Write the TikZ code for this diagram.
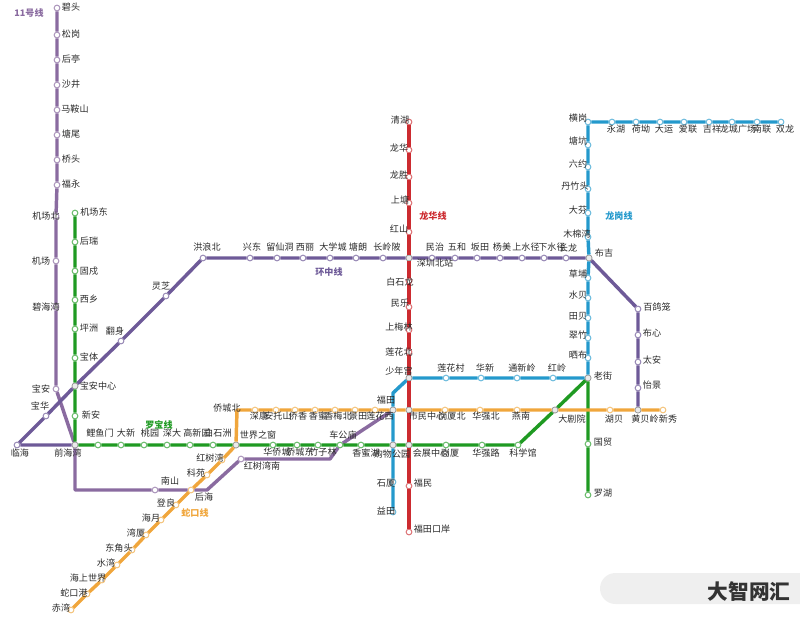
\documentclass[tikz,border=0pt]{standalone}
\usepackage{fontspec}
\setmainfont{Noto Sans CJK SC}
\definecolor{elevenc}{HTML}{8A6BA0}
\definecolor{ringc}{HTML}{6E5A98}
\definecolor{greenc}{HTML}{1F9A22}
\definecolor{redc}{HTML}{CC2B30}
\definecolor{bluec}{HTML}{2499CC}
\definecolor{orangec}{HTML}{F0A63C}
\definecolor{textc}{HTML}{2A2A2A}
\definecolor{barc}{HTML}{EFEFEF}
\tikzset{
    stn/.style={circle, draw=#1, fill=white, line width=0.7pt, minimum size=4.3pt, inner sep=0pt},
    hub/.style={circle, draw=black!40, fill=black!8, line width=0.6pt, minimum size=4.6pt, inner sep=0pt},
    tx/.style={inner sep=0pt, text=textc, font=\fontsize{6.8pt}{7pt}\selectfont},
    linename/.style={inner sep=0pt, text=#1, font=\fontsize{6.8pt}{7pt}\selectfont\bfseries},
    mline/.style={draw=#1, line width=2.6pt, line join=round}
}
\begin{document}
\begin{tikzpicture}[x=0.75pt, y=-0.75pt]
    \useasboundingbox (0, 0) rectangle (800, 621);
    \fill[barc] (800, 573) [rounded corners=11.6pt] -- (600, 573) -- (600, 604) [sharp corners] -- (800, 604) -- cycle;

    \node[hub] (qhw) at (75, 445) {};
    \node[hub] (bazx) at (75, 386) {};
    \node[hub] (sjzc) at (236, 445) {};
    \node[stn=orangec!70] (hh) at (191, 490) {};
    \node[stn=greenc!70] (cgm) at (340, 445) {};
    \node[hub] (szbz) at (409, 258) {};
    \node[hub] (bj) at (589, 258) {};
    \node[hub] (lj) at (588, 378) {};
    \node[hub] (dju) at (555, 410) {};
    \node[hub] (hbl) at (638, 410) {};
    \node[hub] (ft) at (393, 410) {};
    \node[hub] (smzx) at (409, 410) {};
    \node[hub] (gwgy) at (393, 445) {};
    \node[hub] (hzzx) at (409, 445) {};
    \node[hub] (snh) at (409, 378) {};

    \node[stn=elevenc!75] (bt) at (57, 8) {};
    \node[stn=elevenc!75] (sg) at (57, 35) {};
    \node[stn=elevenc!75] (ht) at (57, 60) {};
    \node[stn=elevenc!75] (sj) at (57, 85) {};
    \node[stn=elevenc!75] (mas) at (57, 110) {};
    \node[stn=elevenc!75] (tw) at (57, 135) {};
    \node[stn=elevenc!75] (qt) at (57, 160) {};
    \node[stn=elevenc!75] (fy) at (57, 185) {};
    \node[stn=elevenc!75] (jcb) at (56, 216) {};
    \node[stn=elevenc!75] (jc) at (56, 261) {};
    \node[stn=elevenc!75] (bhw) at (56, 307) {};
    \node[stn=elevenc!75] (ba) at (56, 389) {};
    \node[stn=elevenc!75] (ns) at (155, 490) {};
    \node[stn=elevenc!75] (hshn) at (241, 459) {};

    \node[stn=ringc!75] (lh) at (17, 445) {};
    \node[stn=ringc!75] (bh) at (46, 416) {};
    \node[stn=ringc!75] (fs) at (121, 341) {};
    \node[stn=ringc!75] (lz) at (166, 296) {};
    \node[stn=ringc!75] (hlb) at (203, 258) {};
    \node[stn=ringc!75] (xd) at (250, 258) {};
    \node[stn=ringc!75] (lxd) at (277, 258) {};
    \node[stn=ringc!75] (xl) at (303, 258) {};
    \node[stn=ringc!75] (dxc) at (330, 258) {};
    \node[stn=ringc!75] (tl) at (356, 258) {};
    \node[stn=ringc!75] (clp) at (383, 258) {};
    \node[stn=ringc!75] (mz) at (432, 258) {};
    \node[stn=ringc!75] (wh) at (455, 258) {};
    \node[stn=ringc!75] (bt2) at (477, 258) {};
    \node[stn=ringc!75] (ym) at (500, 258) {};
    \node[stn=ringc!75] (ssj) at (522, 258) {};
    \node[stn=ringc!75] (xsj) at (544, 258) {};
    \node[stn=ringc!75] (cl) at (566, 258) {};
    \node[stn=ringc!75] (bgl) at (638, 309) {};
    \node[stn=ringc!75] (bx) at (638, 335) {};
    \node[stn=ringc!75] (ta) at (638, 362) {};
    \node[stn=ringc!75] (yj) at (638, 388) {};

    \node[stn=greenc!70] (jcd) at (75, 213) {};
    \node[stn=greenc!70] (hr) at (75, 242) {};
    \node[stn=greenc!70] (gs) at (75, 271) {};
    \node[stn=greenc!70] (xx) at (75, 300) {};
    \node[stn=greenc!70] (pz) at (75, 329) {};
    \node[stn=greenc!70] (bti) at (75, 358) {};
    \node[stn=greenc!70] (xa) at (75, 416) {};
    \node[stn=greenc!70] (lym) at (98, 445) {};
    \node[stn=greenc!70] (dx) at (121, 445) {};
    \node[stn=greenc!70] (ty) at (144, 445) {};
    \node[stn=greenc!70] (sd) at (167, 445) {};
    \node[stn=greenc!70] (gxy) at (190, 445) {};
    \node[stn=greenc!70] (bsz) at (213, 445) {};
    \node[stn=greenc!70] (hqc) at (273, 445) {};
    \node[stn=greenc!70] (qcd) at (297, 445) {};
    \node[stn=greenc!70] (zzl) at (318, 445) {};
    \node[stn=greenc!70] (xmh) at (361, 445) {};
    \node[stn=greenc!70] (gx) at (446, 445) {};
    \node[stn=greenc!70] (hql) at (482, 445) {};
    \node[stn=greenc!70] (kxg) at (518, 445) {};
    \node[stn=greenc!70] (gm) at (588, 444) {};
    \node[stn=greenc!70] (lhu) at (588, 495) {};

    \node[stn=redc!70] (qh) at (409, 122) {};
    \node[stn=redc!70] (lhua) at (409, 150) {};
    \node[stn=redc!70] (ls) at (409, 177) {};
    \node[stn=redc!70] (st) at (409, 203) {};
    \node[stn=redc!70] (hs) at (409, 232) {};
    \node[stn=redc!70] (bsl) at (409, 281) {};
    \node[stn=redc!70] (ml) at (409, 307) {};
    \node[stn=redc!70] (sml) at (409, 330) {};
    \node[stn=redc!70] (lhb) at (409, 352) {};
    \node[stn=redc!70] (fm) at (409, 486) {};
    \node[stn=redc!70] (fta) at (409, 532) {};

    \node[stn=bluec!70] (hg) at (588, 122) {};
    \node[stn=bluec!70] (yh) at (612, 122) {};
    \node[stn=bluec!70] (ha) at (636, 122) {};
    \node[stn=bluec!70] (dy) at (660, 122) {};
    \node[stn=bluec!70] (al) at (684, 122) {};
    \node[stn=bluec!70] (jx) at (709, 122) {};
    \node[stn=bluec!70] (lcgc) at (732, 122) {};
    \node[stn=bluec!70] (nl) at (757, 122) {};
    \node[stn=bluec!70] (sl) at (781, 122) {};
    \node[stn=bluec!70] (tk) at (588, 145) {};
    \node[stn=bluec!70] (ly) at (588, 167) {};
    \node[stn=bluec!70] (dzt) at (588, 189) {};
    \node[stn=bluec!70] (df) at (588, 213) {};
    \node[stn=bluec!70] (mmw) at (588, 237) {};
    \node[stn=bluec!70] (cp) at (588, 278) {};
    \node[stn=bluec!70] (sb) at (588, 298) {};
    \node[stn=bluec!70] (tb) at (588, 318) {};
    \node[stn=bluec!70] (cz) at (588, 338) {};
    \node[stn=bluec!70] (shb) at (588, 358) {};
    \node[stn=bluec!70] (hlg) at (553, 378) {};
    \node[stn=bluec!70] (txl) at (517, 378) {};
    \node[stn=bluec!70] (hx) at (481, 378) {};
    \node[stn=bluec!70] (lhc) at (446, 378) {};
    \node[stn=bluec!70] (sx) at (393, 482) {};
    \node[stn=bluec!70] (ytian) at (393, 512) {};

    \node[stn=orangec!70] (cw) at (71, 610) {};
    \node[stn=orangec!70] (skg) at (87, 594) {};
    \node[stn=orangec!70] (hssj) at (102, 580) {};
    \node[stn=orangec!70] (swan) at (117, 565) {};
    \node[stn=orangec!70] (djt) at (132, 550) {};
    \node[stn=orangec!70] (wx) at (146, 535) {};
    \node[stn=orangec!70] (hy) at (161, 520) {};
    \node[stn=orangec!70] (dl) at (176, 505) {};
    \node[stn=orangec!70] (ky) at (207, 475) {};
    \node[stn=orangec!70] (hsw) at (222, 460) {};
    \node[stn=orangec!70] (sk) at (255, 410) {};
    \node[stn=orangec!70] (ats) at (276, 410) {};
    \node[stn=orangec!70] (qx) at (295, 410) {};
    \node[stn=orangec!70] (xm) at (315, 410) {};
    \node[stn=orangec!70] (xmb) at (335, 410) {};
    \node[stn=orangec!70] (jt) at (355, 410) {};
    \node[stn=orangec!70] (lhx) at (375, 410) {};
    \node[stn=orangec!70] (gxb) at (445, 410) {};
    \node[stn=orangec!70] (hqb) at (480, 410) {};
    \node[stn=orangec!70] (yn) at (517, 410) {};
    \node[stn=orangec!70] (hbei) at (610, 410) {};
    \node[stn=orangec!70] (xxiu) at (663, 410) {};

    \coordinate (qhwd) at (75, 490);
    \coordinate (hhe) at (207, 490);
    \coordinate (hsnr) at (330, 459);
    \coordinate (qcb) at (237, 410);
    \coordinate (ftn) at (393, 393);

    \draw[mline=elevenc] (bt) -- (sg) -- (ht) -- (sj) -- (mas) -- (tw) -- (qt) -- (fy) -- (jcb) -- (jc) -- (bhw) -- (ba) -- (qhw) -- (qhwd) -- (ns) -- (hh) -- (hhe) -- (hshn) -- (hsnr) -- (cgm) -- (ft);
    \draw[mline=ringc] (qhw) -- (lh) -- (bh) -- (bazx) -- (fs) -- (lz) -- (hlb) -- (xd) -- (lxd) -- (xl) -- (dxc) -- (tl) -- (clp) -- (szbz) -- (mz) -- (wh) -- (bt2) -- (ym) -- (ssj) -- (xsj) -- (cl) -- (bj) -- (bgl) -- (bx) -- (ta) -- (yj) -- (hbl);
    \draw[mline=greenc] (jcd) -- (hr) -- (gs) -- (xx) -- (pz) -- (bti) -- (bazx) -- (xa) -- (qhw) -- (lym) -- (dx) -- (ty) -- (sd) -- (gxy) -- (bsz) -- (sjzc) -- (hqc) -- (qcd) -- (zzl) -- (cgm) -- (xmh) -- (gwgy) -- (hzzx) -- (gx) -- (hql) -- (kxg) -- (dju) -- (lj) -- (gm) -- (lhu);
    \draw[mline=orangec] (cw) -- (skg) -- (hssj) -- (swan) -- (djt) -- (wx) -- (hy) -- (dl) -- (hh) -- (ky) -- (hsw) -- (sjzc) -- (qcb) -- (sk) -- (ats) -- (qx) -- (xm) -- (xmb) -- (jt) -- (lhx) -- (ft) -- (smzx) -- (gxb) -- (hqb) -- (yn) -- (dju) -- (hbei) -- (hbl) -- (xxiu);
    \draw[mline=bluec] (sl) -- (nl) -- (lcgc) -- (jx) -- (al) -- (dy) -- (ha) -- (yh) -- (hg) -- (tk) -- (ly) -- (dzt) -- (df) -- (mmw) -- (bj) -- (cp) -- (sb) -- (tb) -- (cz) -- (shb) -- (lj) -- (hlg) -- (txl) -- (hx) -- (lhc) -- (snh) -- (ftn) -- (ft) -- (gwgy) -- (sx) -- (ytian);
    \draw[mline=redc] (qh) -- (lhua) -- (ls) -- (st) -- (hs) -- (szbz) -- (bsl) -- (ml) -- (sml) -- (lhb) -- (snh) -- (smzx) -- (hzzx) -- (fm) -- (fta);

    \node[tx] (btl) at (71, 7) {碧头};
    \node[tx] (sgl) at (71, 34) {松岗};
    \node[tx] (htl) at (71, 59) {后亭};
    \node[tx] (sjl) at (71, 84) {沙井};
    \node[tx] (masl) at (75, 109) {马鞍山};
    \node[tx] (twl) at (71, 134) {塘尾};
    \node[tx] (qtl) at (71, 159) {桥头};
    \node[tx] (fyl) at (71, 184) {福永};
    \node[tx] (jcbl) at (46, 216) {机场北};
    \node[tx] (jcl) at (41, 261) {机场};
    \node[tx] (bhwl) at (46, 307) {碧海湾};
    \node[tx] (bal) at (41, 389) {宝安};
    \node[tx] (bhl) at (40, 406) {宝华};
    \node[tx] (lhl) at (20, 453) {临海};
    \node[tx] (qhwl) at (68, 453) {前海湾};
    \node[tx] (nsl) at (170, 481) {南山};
    \node[tx] (hhl) at (204, 497) {后海};
    \node[tx] (hshnl) at (262, 466) {红树湾南};

    \node[tx] (jcdl) at (94, 212) {机场东};
    \node[tx] (hrl) at (89, 241) {后瑞};
    \node[tx] (gsl) at (89, 271) {固戍};
    \node[tx] (xxl) at (89, 299) {西乡};
    \node[tx] (pzl) at (89, 328) {坪洲};
    \node[tx] (btil) at (89, 357) {宝体};
    \node[tx] (bazxl) at (98, 386) {宝安中心};
    \node[tx] (xal) at (91, 415) {新安};
    \node[tx] (lyml) at (100, 433) {鲤鱼门};
    \node[tx] (dxl) at (126, 433) {大新};
    \node[tx] (tyl) at (150, 433) {桃园};
    \node[tx] (sdl) at (172, 433) {深大};
    \node[tx] (gxyl) at (197, 433) {高新园};
    \node[tx] (bszl) at (218, 433) {白石洲};
    \node[tx] (sjzcl) at (258, 435) {世界之窗};
    \node[tx] (hqcl) at (277, 452) {华侨城};
    \node[tx] (qcdl) at (300, 452) {侨城东};
    \node[tx] (zzll) at (323, 452) {竹子林};
    \node[tx] (cgml) at (343, 435) {车公庙};
    \node[tx] (xmhl) at (366, 453) {香蜜湖};
    \node[tx] (gwgyl) at (392, 454) {购物公园};
    \node[tx] (hzzxl) at (431, 453) {会展中心};
    \node[tx] (gxl) at (450, 453) {岗厦};
    \node[tx] (hqll) at (486, 453) {华强路};
    \node[tx] (kxgl) at (523, 453) {科学馆};
    \node[tx] (gml) at (603, 442) {国贸};
    \node[tx] (lhul) at (603, 493) {罗湖};

    \node[tx] (hlbl) at (207, 247) {洪浪北};
    \node[tx] (lzl) at (161, 286) {灵芝};
    \node[tx] (fsl) at (115, 331) {翻身};
    \node[tx] (xdl) at (252, 247) {兴东};
    \node[tx] (lxdl) at (280, 247) {留仙洞};
    \node[tx] (xll) at (305, 247) {西丽};
    \node[tx] (dxcl) at (333, 247) {大学城};
    \node[tx] (tll) at (358, 247) {塘朗};
    \node[tx] (clpl) at (387, 247) {长岭陂};
    \node[tx] (szbzl) at (435, 263) {深圳北站};
    \node[tx] (mzl) at (435, 247) {民治};
    \node[tx] (whl) at (457, 247) {五和};
    \node[tx] (bt2l) at (480, 247) {坂田};
    \node[tx] (yml) at (502, 247) {杨美};
    \node[tx] (ssjl) at (526, 247) {上水径};
    \node[tx] (xsjl) at (552, 247) {下水径};
    \node[tx] (cll) at (568, 248) {长龙};
    \node[tx] (bjl) at (604, 253) {布吉};
    \node[tx] (bgll) at (657, 307) {百鸽笼};
    \node[tx] (bxl) at (652, 333) {布心};
    \node[tx] (tal) at (652, 360) {太安};
    \node[tx] (yjl) at (652, 385) {怡景};

    \node[tx] (qhl) at (400, 120) {清湖};
    \node[tx] (lhual) at (399, 148) {龙华};
    \node[tx] (lsl) at (399, 175) {龙胜};
    \node[tx] (stl) at (400, 200) {上塘};
    \node[tx] (hsl) at (399, 229) {红山};
    \node[tx] (bsll) at (400, 282) {白石龙};
    \node[tx] (mll) at (400, 303) {民乐};
    \node[tx] (smll) at (399, 327) {上梅林};
    \node[tx] (lhbl) at (399, 352) {莲花北};
    \node[tx] (snhl) at (399, 371) {少年宫};
    \node[tx] (fml) at (423, 483) {福民};
    \node[tx] (ftal) at (432, 529) {福田口岸};

    \node[tx] (hgl) at (578, 118) {横岗};
    \node[tx] (yhl) at (616, 129) {永湖};
    \node[tx] (hal) at (641, 129) {荷坳};
    \node[tx] (dyl) at (664, 129) {大运};
    \node[tx] (all) at (688, 129) {爱联};
    \node[tx] (jxl) at (712, 129) {吉祥};
    \node[tx] (lcgcl) at (738, 129) {龙城广场};
    \node[tx] (nll) at (762, 129) {南联};
    \node[tx] (sll) at (785, 129) {双龙};
    \node[tx] (tkl) at (578, 141) {塘坑};
    \node[tx] (lyl) at (578, 164) {六约};
    \node[tx] (dztl) at (575, 186) {丹竹头};
    \node[tx] (dfl) at (578, 210) {大芬};
    \node[tx] (mmwl) at (577, 234) {木棉湾};
    \node[tx] (cpl) at (578, 274) {草埔};
    \node[tx] (sbl) at (578, 295) {水贝};
    \node[tx] (tbl) at (578, 316) {田贝};
    \node[tx] (czl) at (578, 335) {翠竹};
    \node[tx] (shbl) at (578, 355) {晒布};
    \node[tx] (ljl) at (603, 376) {老街};
    \node[tx] (hlgl) at (557, 368) {红岭};
    \node[tx] (txll) at (522, 368) {通新岭};
    \node[tx] (hxl) at (485, 368) {华新};
    \node[tx] (lhcl) at (451, 368) {莲花村};
    \node[tx] (ftl) at (386, 400) {福田};
    \node[tx] (sxl) at (386, 483) {石厦};
    \node[tx] (ytianl) at (386, 511) {益田};

    \node[tx] (cwl) at (61, 608) {赤湾};
    \node[tx] (skgl) at (74, 593) {蛇口港};
    \node[tx] (hssjl) at (88, 578) {海上世界};
    \node[tx] (swanl) at (106, 563) {水湾};
    \node[tx] (djtl) at (119, 548) {东角头};
    \node[tx] (wxl) at (136, 533) {湾厦};
    \node[tx] (hyl) at (151, 518) {海月};
    \node[tx] (dll) at (166, 503) {登良};
    \node[tx] (kyl) at (196, 473) {科苑};
    \node[tx] (hswl) at (210, 458) {红树湾};
    \node[tx] (qcbl) at (227, 408) {侨城北};
    \node[tx] (skl) at (259, 416) {深康};
    \node[tx] (atsl) at (278, 416) {安托山};
    \node[tx] (qxl) at (298, 416) {侨香};
    \node[tx] (xml) at (318, 416) {香蜜};
    \node[tx] (xmbl) at (338, 416) {香梅北};
    \node[tx] (jtl) at (358, 416) {景田};
    \node[tx] (lhxl) at (380, 416) {莲花西};
    \node[tx] (smzxl) at (427, 416) {市民中心};
    \node[tx] (gxbl) at (452, 416) {岗厦北};
    \node[tx] (hqbl) at (486, 416) {华强北};
    \node[tx] (ynl) at (521, 416) {燕南};
    \node[tx] (djul) at (572, 419) {大剧院};
    \node[tx] (hbeil) at (614, 419) {湖贝};
    \node[tx] (hbll) at (645, 419) {黄贝岭};
    \node[tx] (xxiul) at (668, 419) {新秀};

    \node[linename=elevenc] (elevenn) at (29, 13) {11号线};
    \node[linename=greenc] (luobaon) at (159, 425) {罗宝线};
    \node[linename=orangec] (shekoun) at (195, 513) {蛇口线};
    \node[linename=ringc] (huanzn) at (329, 272) {环中线};
    \node[linename=redc] (longhn) at (433, 216) {龙华线};
    \node[linename=bluec] (longgn) at (619, 216) {龙岗线};

    \node[inner sep=0pt, text=black!80, font=\fontsize{15.5pt}{16pt}\selectfont\bfseries] (mark) at (749, 592) {大智网汇};
\end{tikzpicture}
\end{document}
